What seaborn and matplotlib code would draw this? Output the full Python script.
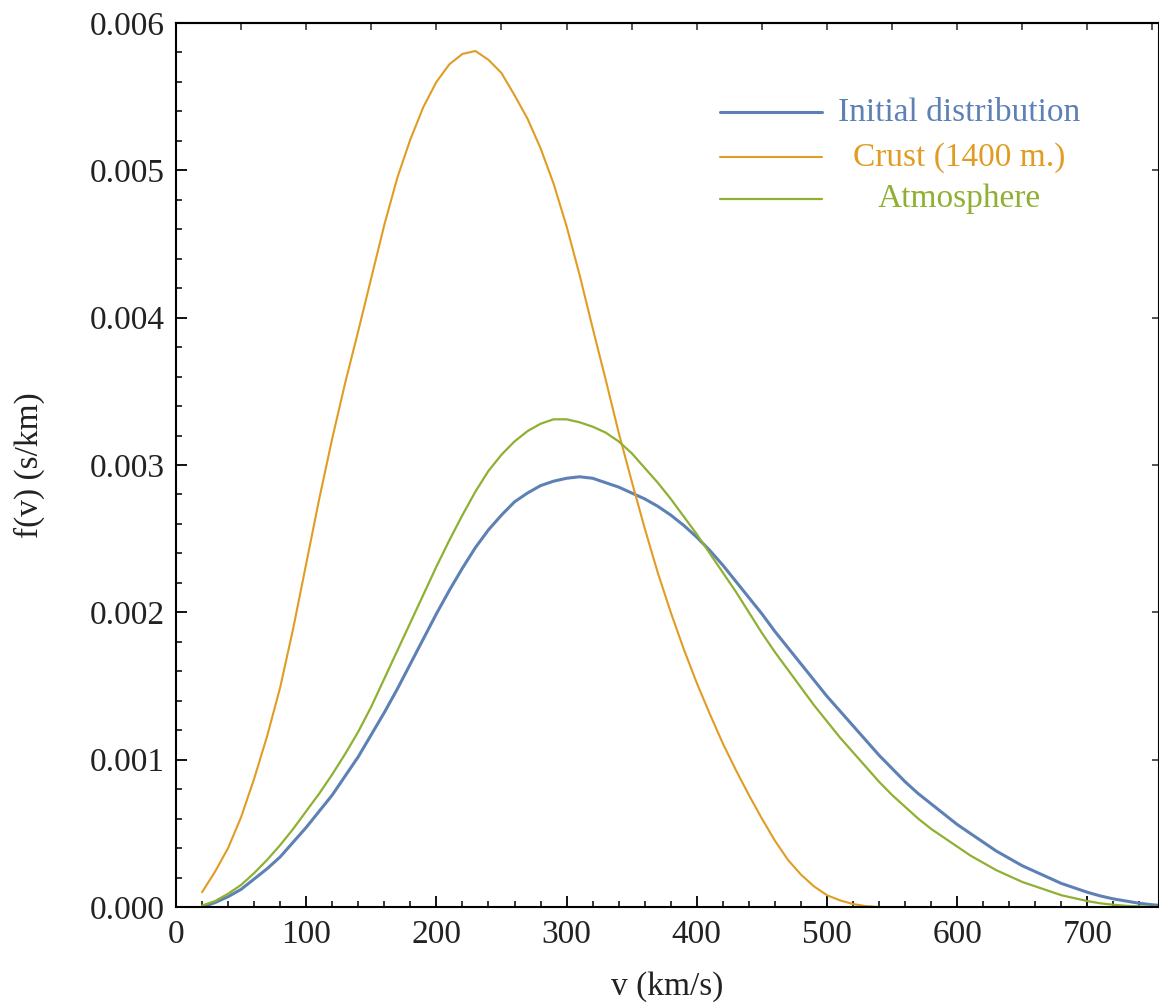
import numpy as np
import pandas as pd
import matplotlib
matplotlib.use("Agg")
import matplotlib.pyplot as plt
import seaborn as sns
from matplotlib.ticker import MultipleLocator, FormatStrFormatter, NullFormatter

v_all = list(range(20, 761, 10))
v_crust = v_all[:53]  # crust curve ends at 540 km/s

# f(v) in units of 1e-3 s/km
f_initial = [0.00, 0.03, 0.07, 0.12, 0.19, 0.26, 0.34, 0.44, 0.54, 0.65,
             0.76, 0.89, 1.02, 1.17, 1.32, 1.48, 1.65, 1.82, 1.99, 2.15,
             2.30, 2.44, 2.56, 2.66, 2.75, 2.81, 2.86, 2.89, 2.91, 2.92,
             2.91, 2.88, 2.85, 2.81, 2.77, 2.72, 2.66, 2.59, 2.51, 2.42,
             2.32, 2.21, 2.10, 1.99, 1.87, 1.76, 1.65, 1.54, 1.43, 1.33,
             1.23, 1.13, 1.03, 0.94, 0.85, 0.77, 0.70, 0.63, 0.56, 0.50,
             0.44, 0.38, 0.33, 0.28, 0.24, 0.20, 0.16, 0.13, 0.10, 0.075,
             0.055, 0.04, 0.025, 0.015, 0.008]
f_crust = [0.10, 0.24, 0.40, 0.61, 0.87, 1.16, 1.49, 1.89, 2.33, 2.77,
           3.18, 3.56, 3.91, 4.27, 4.63, 4.95, 5.21, 5.43, 5.60, 5.72,
           5.79, 5.81, 5.75, 5.66, 5.51, 5.35, 5.15, 4.91, 4.62, 4.29,
           3.93, 3.58, 3.22, 2.89, 2.57, 2.27, 2.00, 1.75, 1.52, 1.31,
           1.11, 0.93, 0.76, 0.60, 0.45, 0.32, 0.22, 0.14, 0.08, 0.045,
           0.02, 0.006, 0.0]
f_atmos = [0.01, 0.04, 0.09, 0.15, 0.23, 0.32, 0.42, 0.53, 0.65, 0.77,
           0.90, 1.04, 1.19, 1.36, 1.55, 1.74, 1.93, 2.12, 2.31, 2.49,
           2.66, 2.82, 2.96, 3.07, 3.16, 3.23, 3.28, 3.31, 3.31, 3.29,
           3.26, 3.22, 3.16, 3.08, 2.98, 2.88, 2.77, 2.65, 2.53, 2.40,
           2.27, 2.14, 2.00, 1.86, 1.73, 1.61, 1.49, 1.37, 1.26, 1.15,
           1.05, 0.95, 0.85, 0.76, 0.68, 0.60, 0.53, 0.47, 0.41, 0.35,
           0.30, 0.25, 0.21, 0.17, 0.14, 0.11, 0.08, 0.06, 0.04, 0.025,
           0.015, 0.008, 0.004, 0.001, 0.0]

labels = ["Initial distribution", "Crust (1400 m.)", "Atmosphere"]
colors = ["#5E81B5", "#E19C24", "#8FB032"]
widths = [2.2, 1.5, 1.6]

df = pd.concat([
    pd.DataFrame({"v": v_all, "f": np.array(f_initial) * 1e-3, "series": labels[0]}),
    pd.DataFrame({"v": v_crust, "f": np.array(f_crust) * 1e-3, "series": labels[1]}),
    pd.DataFrame({"v": v_all, "f": np.array(f_atmos) * 1e-3, "series": labels[2]}),
])

sns.set_style("ticks")
plt.rcParams["font.family"] = ["Liberation Serif", "DejaVu Serif"]

fig = plt.figure(figsize=(11.59, 10.08), dpi=100)
ax = fig.add_axes([176 / 1159, 101 / 1008, 983 / 1159, 884 / 1008])

for lab, col, lw in zip(labels, colors, widths):
    sns.lineplot(data=df[df["series"] == lab], x="v", y="f", color=col,
                 linewidth=lw, estimator=None, sort=True, ax=ax)

ax.set_xlim(0, 755)
ax.set_ylim(0, 0.006)

ax.xaxis.set_major_locator(MultipleLocator(100))
ax.xaxis.set_minor_locator(MultipleLocator(20))
ax.yaxis.set_major_locator(MultipleLocator(0.001))
ax.yaxis.set_minor_locator(MultipleLocator(0.0002))
ax.yaxis.set_major_formatter(FormatStrFormatter("%.3f"))

ax.tick_params(which="both", direction="in", top=False, right=False,
               colors="black", labelcolor="#222222", labelsize=24)
ax.tick_params(which="major", length=8, width=1.3)
ax.tick_params(which="minor", length=4.5, width=1.1)
ax.tick_params(axis="x", pad=9)
ax.tick_params(axis="y", pad=8)

for s in ax.spines.values():
    s.set_linewidth(1.5)
    s.set_color("black")

# frame ticks on top and right, no labels
top = ax.secondary_xaxis("top")
top.xaxis.set_major_locator(MultipleLocator(50))
top.xaxis.set_major_formatter(NullFormatter())
top.tick_params(direction="in", length=5, width=1.1)
top.spines["top"].set_linewidth(1.5)

right = ax.secondary_yaxis("right")
right.yaxis.set_major_locator(MultipleLocator(0.001))
right.yaxis.set_major_formatter(NullFormatter())
right.tick_params(direction="in", length=5, width=1.1)

ax.set_xlabel("v (km/s)", fontsize=24, color="#222222", labelpad=15)
ax.set_ylabel("f(v) (s/km)", fontsize=24, color="#222222", labelpad=32)

# legend: short line + centred coloured text, like the original
leg_y = [0.899, 0.848, 0.801]
for lab, col, lw, y in zip(labels, colors, widths, leg_y):
    ax.plot([0.553, 0.657], [y, y], transform=ax.transAxes, color=col, lw=lw)
    ax.text(0.797, y, lab, transform=ax.transAxes, ha="center", va="center",
            color=col, fontsize=24)

fig.savefig("out.png", dpi=100)
